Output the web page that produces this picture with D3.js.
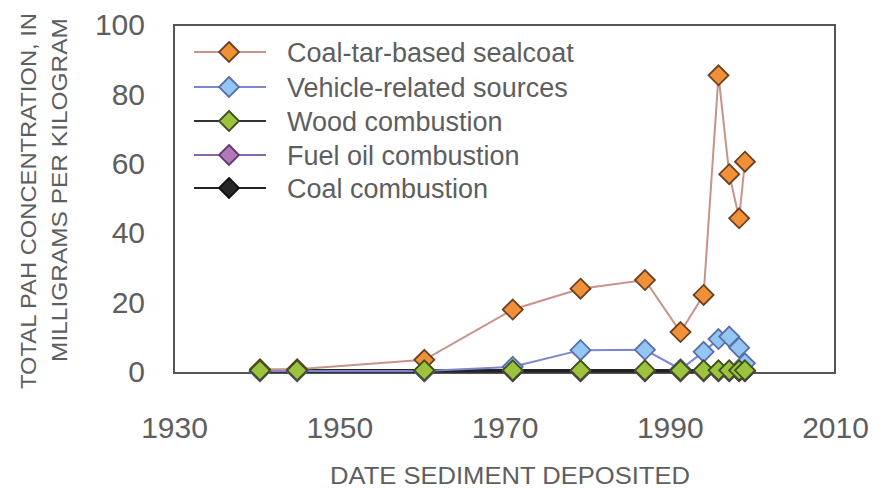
<!DOCTYPE html>
<html>
<head>
<meta charset="utf-8">
<script src="https://cdnjs.cloudflare.com/ajax/libs/d3/7.8.5/d3.min.js"></script>
<style>
body { margin: 0; background: #fff; }
svg { display: block; }
text { font-family: "Liberation Sans", Arial, sans-serif; fill: #5e5e5e; }
</style>
</head>
<body>
<svg id="chart"></svg>
<script>
// sediment dates and series values
var years = [1940.4, 1944.9, 1960.3, 1971.0, 1979.2, 1987.0, 1991.3, 1994.1, 1995.9, 1997.2, 1998.4, 1999.1]
var sealcoat = [0.8, 0.8, 3.5, 18, 24, 26.5, 11.5, 22.2, 85.5, 57, 44.3, 60.6]
var vehicle = [0.3, 0.3, 0.3, 1.5, 6.3, 6.4, 0.8, 5.8, 9.5, 10.2, 7, 2.5]
var wood = [0.5, 0.5, 0.5, 0.5, 0.5, 0.5, 0.5, 0.5, 0.5, 0.5, 0.5, 0.5]
var fuelOil = [0.2, 0.2, 0.2, 0.2, 0.2, 0.2, 0.2, 0.2, 0.2, 0.2, 0.2, 0.2]
var coal = [0.3, 0.3, 0.3, 0.3, 0.3, 0.3, 0.3, 0.3, 0.3, 0.3, 0.3, 0.3]

var seriesNames = ["Coal-tar-based sealcoat", "Vehicle-related sources", "Wood combustion", "Fuel oil combustion", "Coal combustion"]
var xTicks = [1930, 1950, 1970, 1990, 2010]
var yTicks = [0, 20, 40, 60, 80, 100]

var series = [
    { name: seriesNames[0], values: sealcoat, line: "#c8938a", fill: "#f0913a", stroke: "#6b4020" },
    { name: seriesNames[1], values: vehicle, line: "#7d86cf", fill: "#93c6f2", stroke: "#5a6ea8" },
    { name: seriesNames[2], values: wood, line: "#333333", fill: "#9cc23e", stroke: "#3e5020" },
    { name: seriesNames[3], values: fuelOil, line: "#8a68b0", fill: "#b278b8", stroke: "#603a70" },
    { name: seriesNames[4], values: coal, line: "#222222", fill: "#262626", stroke: "#111111" }
]

var width = 881
var height = 490
var svg = d3.select('#chart').attr('width', width).attr('height', height)

// plot frame edges (not "top": that name is taken by window.top)
var plotLeft = 174, plotRight = 835, plotTop = 25, plotBottom = 373

var x = d3.scaleLinear().domain([1930, 2010]).range([plotLeft, plotRight])
var y = d3.scaleLinear().domain([0, 100]).range([372, plotTop])

// frame
svg.append("rect")
    .attr("x", plotLeft).attr("y", plotTop)
    .attr("width", plotRight - plotLeft).attr("height", plotBottom - plotTop)
    .attr("fill", "none")
    .attr("stroke", "#555")
    .attr("stroke-width", 2)

// axes (labels only, frame drawn above)
var xAxis = svg.append("g")
    .attr("transform", "translate(0," + plotBottom + ")")
    .call(d3.axisBottom(x).tickValues(xTicks).tickFormat(d3.format("d")).tickSize(0).tickPadding(44))
xAxis.select(".domain").remove()
xAxis.selectAll("text").attr("font-size", 30).style("font-family", "Liberation Sans, Arial, sans-serif").attr("fill", "#5e5e5e")

var yAxis = svg.append("g")
    .attr("transform", "translate(" + plotLeft + ",0)")
    .call(d3.axisLeft(y).tickValues(yTicks).tickSize(0).tickPadding(29))
yAxis.select(".domain").remove()
yAxis.selectAll("text").attr("font-size", 30).style("font-family", "Liberation Sans, Arial, sans-serif").attr("fill", "#5e5e5e")

// axis titles
svg.append("text")
    .attr("x", 510).attr("y", 484)
    .attr("text-anchor", "middle")
    .attr("font-size", 24)
    .attr("textLength", 360)
    .attr("lengthAdjust", "spacingAndGlyphs")
    .text("DATE SEDIMENT DEPOSITED")

svg.append("text")
    .attr("transform", "translate(36,201) rotate(-90)")
    .attr("text-anchor", "middle")
    .attr("font-size", 22)
    .attr("textLength", 376)
    .attr("lengthAdjust", "spacingAndGlyphs")
    .text("TOTAL PAH CONCENTRATION, IN")

svg.append("text")
    .attr("transform", "translate(67,190) rotate(-90)")
    .attr("text-anchor", "middle")
    .attr("font-size", 22)
    .attr("textLength", 344)
    .attr("lengthAdjust", "spacingAndGlyphs")
    .text("MILLIGRAMS PER KILOGRAM")

function diamond(r) {
    return "M0," + (-r) + "L" + r + ",0L0," + r + "L" + (-r) + ",0Z"
}

var line = d3.line()
    .x(function (d, i) { return x(years[i]) })
    .y(function (d) { return y(d) })

// lines, then markers; wood markers sit on top of everything
var lineOrder = [2, 3, 4, 1, 0]
var markerOrder = [4, 3, 1, 0, 2]

var plot = svg.append("g")
lineOrder.forEach(function (k) {
    var s = series[k]
    plot.append("path")
        .datum(s.values)
        .attr("d", line)
        .attr("fill", "none")
        .attr("stroke", s.line)
        .attr("stroke-width", k === 4 ? 3.5 : (k >= 2 ? 2.5 : 2))
})
markerOrder.forEach(function (k) {
    var s = series[k]
    plot.append("g").selectAll("path")
        .data(s.values)
        .enter().append("path")
        .attr("transform", function (d, i) { return "translate(" + x(years[i]) + "," + y(d) + ")" })
        .attr("d", diamond(10))
        .attr("fill", s.fill)
        .attr("stroke", s.stroke)
        .attr("stroke-width", 1.8)
})

// legend
var legend = svg.append("g")
var legendY = [52, 87, 121, 155, 188]
series.forEach(function (s, i) {
    var g = legend.append("g").attr("transform", "translate(0," + legendY[i] + ")")
    g.append("line")
        .attr("x1", 194).attr("x2", 266)
        .attr("stroke", s.line)
        .attr("stroke-width", 2)
    g.append("path")
        .attr("transform", "translate(229,0)")
        .attr("d", diamond(10))
        .attr("fill", s.fill)
        .attr("stroke", s.stroke)
        .attr("stroke-width", 1.8)
    g.append("text")
        .attr("x", 287).attr("y", 10)
        .attr("font-size", 27)
        .attr("fill", "#636363")
        .text(s.name)
})
</script>
</body>
</html>
